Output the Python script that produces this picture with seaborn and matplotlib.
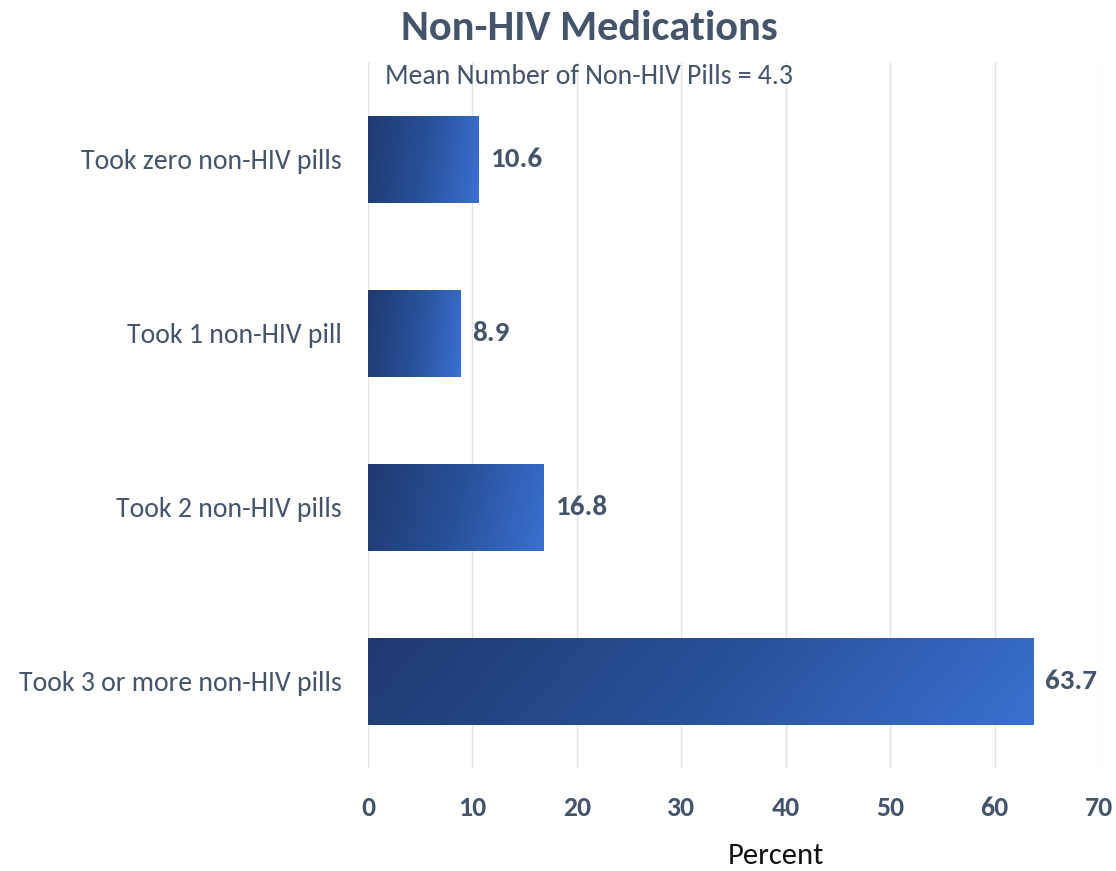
import matplotlib
matplotlib.use("Agg")
import matplotlib.pyplot as plt
import seaborn as sns
import numpy as np
import pandas as pd
from matplotlib.colors import LinearSegmentedColormap

categories = ["Took zero non-HIV pills", "Took 1 non-HIV pill", "Took 2 non-HIV pills", "Took 3 or more non-HIV pills"]
values = [10.6, 8.9, 16.8, 63.7]
xticks = [0, 10, 20, 30, 40, 50, 60, 70]
title = "Non-HIV Medications"
subtitle = "Mean Number of Non-HIV Pills = 4.3"

sns.set_theme(style="white")
plt.rcParams['font.family'] = ['Carlito', 'DejaVu Sans']

TXT = "#44546a"
fig = plt.figure(figsize=(11.16, 8.71), dpi=100)
ax = fig.add_axes([368 / 1116, 103 / 871, 731 / 1116, 706 / 871])

df = pd.DataFrame({"cat": categories, "val": values})
sns.barplot(data=df, y="cat", x="val", orient="h", ax=ax, width=0.5, color="#2f5fb0", saturation=1)

cmap = LinearSegmentedColormap.from_list("g", ["#1f3a70", "#285098", "#3a70d0"])
gx = np.linspace(0, 1, 256)[None, :]
gy = np.linspace(0, 1, 32)[:, None]
grad = np.clip(gx * 0.9 + gy * 0.1, 0, 1)
for p in ax.patches:
    x0, y0 = p.get_x(), p.get_y()
    w, h = p.get_width(), p.get_height()
    p.set_facecolor("none")
    p.set_edgecolor("none")
    im = ax.imshow(grad, cmap=cmap, aspect="auto", extent=[x0, x0 + w, y0 + h, y0],
                   origin="upper", zorder=2, interpolation="bilinear", vmin=0, vmax=1)
    im.set_clip_path(p)

ax.set_xlim(0, 70)
ax.set_ylim(3.5, -0.5575)
ax.set_xticks(xticks)
ax.set_xticklabels([str(t) for t in xticks], fontsize=20, fontweight="bold", color=TXT)
ax.tick_params(axis="x", length=0, pad=20)
ax.tick_params(axis="y", length=0, pad=19)
ax.set_yticks(range(len(categories)))
ax.set_yticklabels(categories, fontsize=20, color=TXT)
ax.grid(axis="x", color="#e4e4e4", linewidth=1)
ax.set_axisbelow(True)
for s in ax.spines.values():
    s.set_visible(False)
ax.set_ylabel("")
ax.set_xlabel("")

for i, v in enumerate(values):
    ax.text(v + 1.1, i, f"{v:.1f}", va="center", ha="left", fontsize=21, fontweight="bold", color=TXT)

fig.text(776 / 1116, 1 - 856 / 871, "Percent", ha="center", va="center", fontsize=22, color="#111111")
fig.text(589 / 1116, 1 - 28 / 871, title, ha="center", va="center", fontsize=30.5, fontweight="bold", color=TXT)
fig.text(589 / 1116, 1 - 76 / 871, subtitle, ha="center", va="center", fontsize=20, color=TXT)

fig.savefig("out.png", dpi=100)
